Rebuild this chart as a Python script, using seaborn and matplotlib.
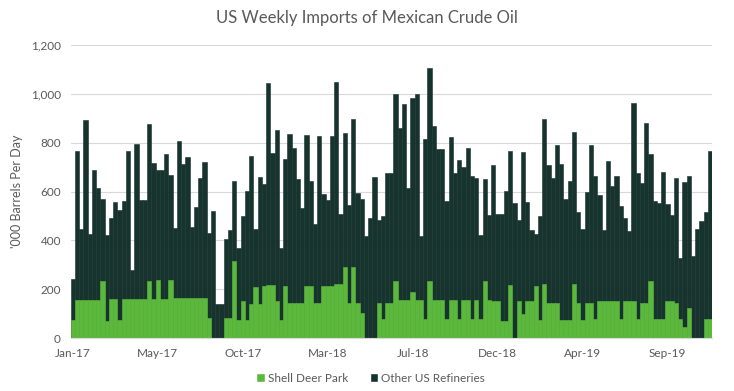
import matplotlib
matplotlib.use("Agg")
import matplotlib.pyplot as plt
from matplotlib.patches import Patch
from matplotlib.ticker import FuncFormatter
import pandas as pd
import seaborn as sns

# weekly totals ('000 b/d)
total = [
    240, 766, 445, 893, 427, 689, 614, 570, 420, 490,
    557, 525, 561, 766, 277, 793, 564, 564, 878, 718,
    689, 689, 755, 666, 452, 807, 711, 741, 456, 536,
    657, 721, 429, 521, 138, 138, 404, 441, 643, 367,
    500, 602, 745, 445, 659, 632, 1046, 759, 850, 370,
    732, 834, 778, 650, 534, 831, 643, 468, 827, 591,
    564, 827, 1050, 509, 841, 545, 895, 595, 568, 418,
    493, 659, 482, 500, 677, 677, 998, 861, 957, 616,
    981, 1001, 418, 814, 1104, 868, 773, 773, 561, 823,
    677, 728, 701, 779, 664, 654, 422, 650, 504, 707,
    509, 509, 602, 766, 554, 482, 763, 558, 441, 425,
    500, 895, 708, 654, 789, 711, 568, 643, 845, 517,
    445, 597, 789, 663, 586, 441, 725, 624, 664, 541,
    493, 438, 961, 674, 636, 882, 752, 561, 554, 681,
    547, 504, 654, 326, 640, 663, 336, 445, 479, 517,
    766,
]

# Shell Deer Park part of each week
shell = [
    75, 155, 155, 155, 155, 155, 155, 235, 70, 158,
    158, 75, 160, 160, 160, 160, 160, 160, 235, 160,
    238, 160, 160, 238, 165, 165, 165, 165, 165, 165,
    165, 165, 80, 0, 0, 0, 83, 83, 315, 75,
    150, 75, 140, 210, 140, 212, 218, 218, 150, 72,
    215, 145, 145, 145, 145, 215, 213, 145, 145, 213,
    213, 213, 220, 220, 291, 145, 291, 145, 104, 0,
    0, 0, 145, 76, 145, 145, 233, 155, 155, 155,
    190, 155, 155, 76, 233, 155, 155, 155, 76, 155,
    155, 76, 155, 155, 76, 155, 76, 233, 155, 150,
    150, 70, 70, 217, 0, 150, 97, 150, 150, 213,
    72, 220, 145, 145, 145, 72, 72, 72, 220, 145,
    72, 145, 145, 76, 150, 150, 150, 150, 150, 76,
    150, 150, 150, 76, 145, 145, 233, 76, 76, 76,
    150, 150, 145, 76, 45, 124, 0, 0, 0, 76,
    76,
]

# one label every 20 weeks
tick_labels = ['Jan-17', 'May-17', 'Oct-17', 'Mar-18', 'Jul-18', 'Dec-18', 'Apr-19', 'Sep-19']

GREEN = '#5cb83c'
DARK = '#17332d'
GREY = '#595959'

df = pd.DataFrame({'week': range(len(total)), 'total': total, 'shell': shell})
df['other'] = df['total'] - df['shell']

sns.set_style("white")
plt.rcParams['font.family'] = ['Lato', 'DejaVu Sans']

fig = plt.figure(figsize=(7.34, 3.91), dpi=100)
ax = fig.add_axes([0.0963, 0.1355, 0.8738, 0.7494])

ax.yaxis.grid(True, color='#d9d9d9', lw=0.8)
ax.set_axisbelow(True)

# stacked: draw the full height dark, then the green base on top of it
sns.barplot(data=df, x='week', y='total', color=DARK, width=1, saturation=1,
            errorbar=None, edgecolor=DARK, linewidth=0.4, ax=ax)
sns.barplot(data=df, x='week', y='shell', color=GREEN, width=1, saturation=1,
            errorbar=None, edgecolor=GREEN, linewidth=0.4, ax=ax)

ax.set_xlim(-0.5, len(total) - 0.5)
ax.set_ylim(0, 1200)
ax.set_yticks(range(0, 1201, 200))
ax.yaxis.set_major_formatter(FuncFormatter(lambda v, p: f'{int(v):,}'))
ax.set_xticks(range(0, len(total), 20))
ax.set_xticklabels(tick_labels)
ax.tick_params(axis='both', length=0, labelsize=8.5, labelcolor=GREY, pad=7)
ax.set_xlabel('')
ax.set_ylabel("'000 Barrels Per Day", fontsize=9, color=GREY, labelpad=6)

for s in ['top', 'right', 'left']:
    ax.spines[s].set_visible(False)
ax.spines['bottom'].set_color('#d9d9d9')

fig.text(0.5, 0.955, 'US Weekly Imports of Mexican Crude Oil', ha='center', va='center',
         fontsize=12, color=GREY)

handles = [Patch(facecolor=GREEN, label='Shell Deer Park'),
           Patch(facecolor=DARK, label='Other US Refineries')]
leg = fig.legend(handles=handles, loc='center', bbox_to_anchor=(0.505, 0.033), ncol=2,
                 frameon=False, fontsize=8.5, handlelength=0.7, handleheight=0.7,
                 handletextpad=0.3, columnspacing=1.8)
for t in leg.get_texts():
    t.set_color(GREY)

fig.savefig('out.png', dpi=100)
